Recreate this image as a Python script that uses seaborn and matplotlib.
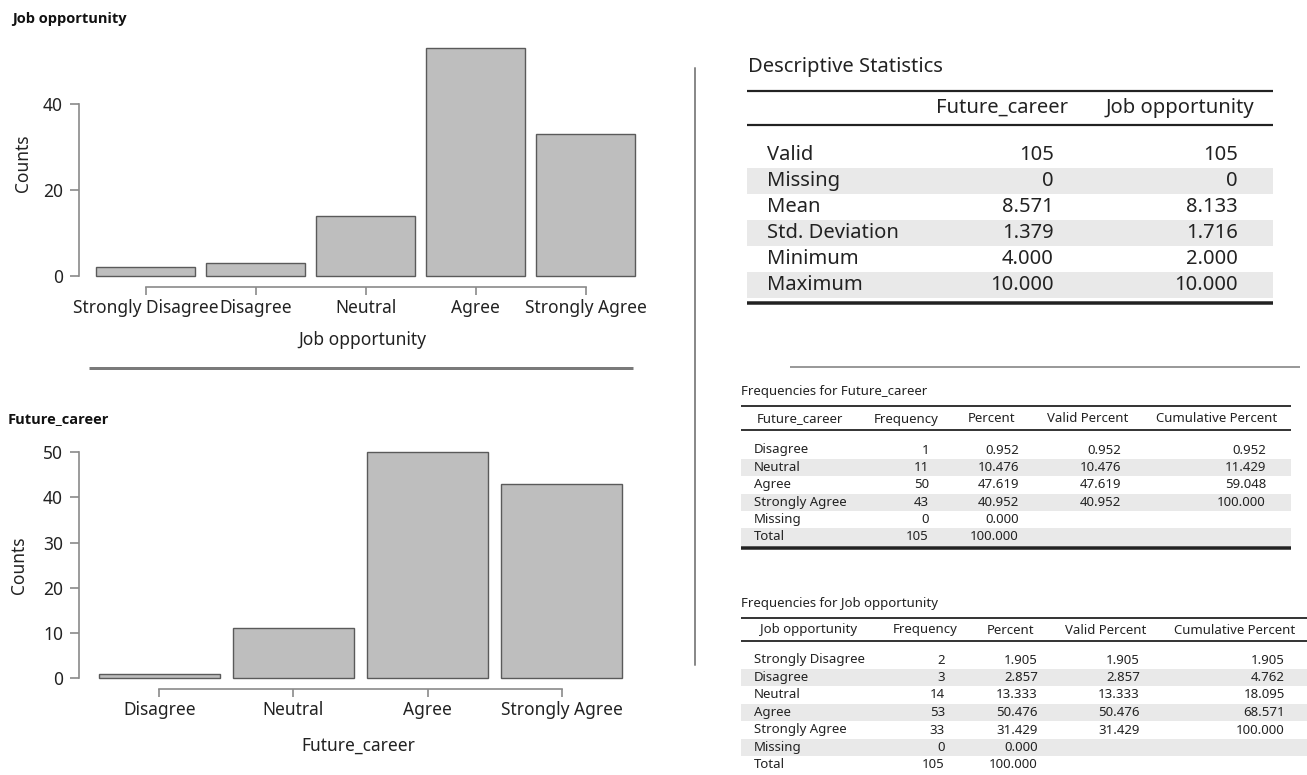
import matplotlib
matplotlib.use("Agg")
import matplotlib.pyplot as plt
from matplotlib.patches import Rectangle
import seaborn as sns

# ---- data ---------------------------------------------------------------
job_levels = ["Strongly Disagree", "Disagree", "Neutral", "Agree", "Strongly Agree"]
job_counts = [2, 3, 14, 53, 33]

career_levels = ["Disagree", "Neutral", "Agree", "Strongly Agree"]
career_counts = [1, 11, 50, 43]

desc_columns = ["Future_career", "Job opportunity"]
desc_rows = ["Valid", "Missing", "Mean", "Std. Deviation", "Minimum", "Maximum"]
desc_career = ["105", "0", "8.571", "1.379", "4.000", "10.000"]
desc_job = ["105", "0", "8.133", "1.716", "2.000", "10.000"]

freq_headers = ["Frequency", "Percent", "Valid Percent", "Cumulative Percent"]

fc_rows = ["Disagree", "Neutral", "Agree", "Strongly Agree", "Missing", "Total"]
fc_freq = ["1", "11", "50", "43", "0", "105"]
fc_pct = ["0.952", "10.476", "47.619", "40.952", "0.000", "100.000"]
fc_valid = ["0.952", "10.476", "47.619", "40.952", "", ""]
fc_cum = ["0.952", "11.429", "59.048", "100.000", "", ""]

jo_rows = ["Strongly Disagree", "Disagree", "Neutral", "Agree", "Strongly Agree", "Missing", "Total"]
jo_freq = ["2", "3", "14", "53", "33", "0", "105"]
jo_pct = ["1.905", "2.857", "13.333", "50.476", "31.429", "0.000", "100.000"]
jo_valid = ["1.905", "2.857", "13.333", "50.476", "31.429", "", ""]
jo_cum = ["1.905", "4.762", "18.095", "68.571", "100.000", "", ""]

# ---- style --------------------------------------------------------------
sns.set_style("white")
plt.rcParams["font.family"] = ["Noto Sans", "DejaVu Sans"]

W, H = 1307, 775
fig = plt.figure(figsize=(W / 100, H / 100), dpi=100)

TXT = "#222222"
AX = "#8a8a8a"
BAR = "#bebebe"
SHADE = "#e9e9e9"
PT = 0.72  # points per pixel
BOLD = ["Open Sans", "DejaVu Sans"]


def px_axes(left, top, right, bottom):
    return fig.add_axes([left / W, 1 - bottom / H, (right - left) / W, (bottom - top) / H])


# full-figure overlay in pixel coordinates for tables and rules
bg = fig.add_axes([0, 0, 1, 1], zorder=0)
bg.set_xlim(0, W)
bg.set_ylim(H, 0)
bg.axis("off")


def hline(y, x0, x1, lw, color=TXT):
    bg.plot([x0, x1], [y, y], color=color, lw=lw * PT, solid_capstyle="butt")


def bar_panel(box, levels, counts, ymax_tick, ystep, title, xlabel, title_xy,
              xlim, ylim, spine_out, ylabel_xy, xlabel_xy):
    left, top, right, bottom = box
    ax = px_axes(*box)
    sns.barplot(x=levels, y=counts, order=levels, color=BAR, saturation=1,
                edgecolor="#5a5a5a", linewidth=1.0, width=0.9, ax=ax)
    ax.set_xlim(*xlim)
    ax.set_ylim(*ylim)
    ax.set_yticks(range(0, ymax_tick + 1, ystep))
    for s in ("top", "right"):
        ax.spines[s].set_visible(False)
    ax.spines["left"].set_bounds(0, ymax_tick)
    ax.spines["left"].set_color(AX)
    ax.spines["left"].set_linewidth(1.2)
    ax.spines["bottom"].set_bounds(0, len(levels) - 1)
    ax.spines["bottom"].set_position(("outward", spine_out * PT))
    ax.spines["bottom"].set_color(AX)
    ax.spines["bottom"].set_linewidth(1.2)
    ax.tick_params(axis="y", direction="out", length=9 * PT, width=1.2, color=AX,
                   labelsize=12.5, labelcolor=TXT, pad=7 * PT, left=True)
    ax.tick_params(axis="x", direction="out", length=8 * PT, width=1.2, color=AX,
                   labelsize=12.5, labelcolor=TXT, pad=3, bottom=True)
    fx = lambda px: (px - left) / (right - left)
    fy = lambda py: (bottom - py) / (bottom - top)
    ax.set_ylabel("Counts", fontsize=12.5, color=TXT, va="center")
    ax.yaxis.set_label_coords(fx(ylabel_xy[0]), fy(ylabel_xy[1]))
    ax.set_xlabel(xlabel, fontsize=12.5, color=TXT, va="center")
    ax.xaxis.set_label_coords(fx(xlabel_xy[0]), fy(xlabel_xy[1]))
    ax.patch.set_alpha(0)
    bg.text(title_xy[0], title_xy[1], title, fontsize=10.5, fontweight="bold",
            family=BOLD, color="#111111", va="center", ha="left")
    return ax


# ---- Job opportunity bar chart -------------------------------------------
# category centres 145.5 .. 585.5 px, y: 0 -> 276 px, 40 -> 104 px
bar_panel((79, 41, 640, 280), job_levels, job_counts, 40, 20, "Job opportunity",
          "Job opportunity", (12, 19), (-0.605, 4.495), (-0.93, 54.6), 7,
          (23, 163), (362, 340))

hline(368, 89, 633, 3, color="#7a7a7a")

# ---- Future_career bar chart ---------------------------------------------
# category centres 159.5 .. 561.5 px, y: 0 -> 678 px, 50 -> 452 px
bar_panel((79, 443, 646, 685), career_levels, career_counts, 50, 10, "Future_career",
          "Future_career", (8, 419), (-0.6, 3.63), (-1.5, 52), 4,
          (19, 565), (358, 746))

# vertical divider between plots and tables
bg.plot([695, 695], [68, 665], color="#8a8a8a", lw=2 * PT)

# ---- Descriptive statistics table -----------------------------------------
DFS = 14.5
bg.text(748, 67, "Descriptive Statistics", fontsize=DFS, color=TXT, va="center")
hline(91, 747, 1273, 2.2)
bg.text(1002, 108, desc_columns[0], fontsize=DFS, color=TXT, va="center", ha="center")
bg.text(1180, 108, desc_columns[1], fontsize=DFS, color=TXT, va="center", ha="center")
hline(125, 747, 1273, 2.2)
for i, (name, a, b) in enumerate(zip(desc_rows, desc_career, desc_job)):
    y = 155 + 26 * i
    if i % 2 == 1:
        bg.add_patch(Rectangle((747, y - 13), 526, 26, color=SHADE, lw=0, zorder=0))
    bg.text(767, y, name, fontsize=DFS, color=TXT, va="center", ha="left")
    bg.text(1054, y, a, fontsize=DFS, color=TXT, va="center", ha="right")
    bg.text(1238, y, b, fontsize=DFS, color=TXT, va="center", ha="right")
hline(303, 747, 1273, 3.5)

hline(367, 790, 1300, 2, color="#9a9a9a")


# ---- frequency tables -----------------------------------------------------
def freq_table(title, var, rows, cols, x0, x1, title_y, top_y, head_y, line_y,
               first_row_y, step, head_x, val_x):
    fs = 9.5
    bg.text(x0, title_y, title, fontsize=fs, color=TXT, va="center")
    hline(top_y, x0, x1, 1.8)
    for label, hx in zip([var] + freq_headers, head_x):
        bg.text(hx, head_y, label, fontsize=fs, color=TXT, va="center", ha="center")
    hline(line_y, x0, x1, 1.8)
    for i, name in enumerate(rows):
        y = first_row_y + i * step
        if i % 2 == 1:
            bg.add_patch(Rectangle((x0, y - step / 2), x1 - x0, step, color=SHADE,
                                   lw=0, zorder=0))
        bg.text(x0 + 13, y, name, fontsize=fs, color=TXT, va="center", ha="left")
        for col, vx in zip(cols, val_x):
            bg.text(vx, y, col[i], fontsize=fs, color=TXT, va="center", ha="right")
    return first_row_y + (len(rows) - 0.5) * step


end_y = freq_table("Frequencies for Future_career", "Future_career", fc_rows,
                   [fc_freq, fc_pct, fc_valid, fc_cum], 741, 1291, 392, 406, 419, 430,
                   450, 17.4, [800, 906, 992, 1088, 1217], [929, 1019, 1121, 1266])
hline(end_y + 2, 741, 1291, 3.5)

freq_table("Frequencies for Job opportunity", "Job opportunity", jo_rows,
           [jo_freq, jo_pct, jo_valid, jo_cum], 741, 1307, 603, 618, 630, 641,
           660, 17.5, [809, 925, 1011, 1106, 1235], [945, 1038, 1140, 1285])

fig.savefig("out.png", dpi=100)
